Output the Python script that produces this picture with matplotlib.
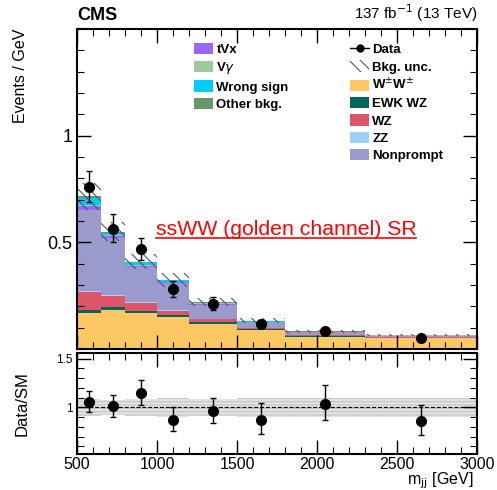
import matplotlib
matplotlib.use('Agg')
import matplotlib.pyplot as plt
from matplotlib.patches import Patch
from matplotlib.lines import Line2D
from matplotlib.ticker import MultipleLocator
import numpy as np

plt.rcParams['font.family'] = ['Liberation Sans', 'DejaVu Sans']
plt.rcParams['hatch.linewidth'] = 0.8

# m_jj bin edges (GeV)
edges = [500, 650, 800, 1000, 1200, 1500, 1800, 2300, 3000]

# background components, events / GeV, stacked bottom -> top
ww = [0.167, 0.183, 0.167, 0.148, 0.116, 0.088, 0.057, 0.050]
ewk_wz = [0.016, 0.012, 0.012, 0.010, 0.009, 0.005, 0.004, 0.003]
wz = [0.083, 0.055, 0.037, 0.021, 0.015, 0.006, 0.004, 0.003]
zz = [0.004, 0.003, 0.003, 0.002, 0.002, 0.001, 0.001, 0.001]
nonprompt = [0.381, 0.269, 0.165, 0.127, 0.066, 0.026, 0.012, 0.005]
tvx = [0.019, 0.008, 0.006, 0.004, 0.003, 0.001, 0.001, 0.0005]
vgamma = [0.005, 0.004, 0.004, 0.002, 0.002, 0.001, 0.001, 0.0005]
wrong_sign = [0.034, 0.011, 0.012, 0.008, 0.004, 0.004, 0.001, 0.001]
other_bkg = [0.006, 0.004, 0.003, 0.002, 0.002, 0.001, 0.001, 0.0005]

# relative background uncertainty per bin
bkg_unc = [0.09, 0.08, 0.09, 0.10, 0.09, 0.10, 0.10, 0.10]

# data
data_y = [0.757, 0.561, 0.467, 0.280, 0.211, 0.116, 0.082, 0.053]
data_up = [0.079, 0.071, 0.055, 0.040, 0.031, 0.020, 0.015, 0.010]
data_dn = [0.068, 0.060, 0.049, 0.038, 0.027, 0.018, 0.013, 0.009]

# data / SM ratio
ratio_y = [1.06, 1.01, 1.147, 0.867, 0.961, 0.874, 1.035, 0.86]
ratio_up = [0.108, 0.12, 0.133, 0.133, 0.139, 0.171, 0.192, 0.168]
ratio_dn = [0.102, 0.105, 0.119, 0.112, 0.118, 0.147, 0.161, 0.147]

components = [
    ('W$^{\\pm}$W$^{\\pm}$', ww, '#fdc863'),
    ('EWK WZ', ewk_wz, '#00665f'),
    ('WZ', wz, '#de5468'),
    ('ZZ', zz, '#9fcfff'),
    ('Nonprompt', nonprompt, '#9a9acc'),
    ('tVx', tvx, '#9b66ff'),
    ('V$\\gamma$', vgamma, '#99cc99'),
    ('Wrong sign', wrong_sign, '#00ccff'),
    ('Other bkg.', other_bkg, '#669966'),
]

edges = np.array(edges, dtype=float)
centers = 0.5 * (edges[1:] + edges[:-1])

fig = plt.figure(figsize=(4.97, 4.90), dpi=100)
ax = fig.add_axes([0.155, 0.288, 0.805, 0.653])
rax = fig.add_axes([0.155, 0.073, 0.805, 0.207])

# stacked backgrounds
bottom = np.zeros(len(centers))
for name, vals, col in components:
    top = bottom + np.array(vals)
    ax.stairs(top, edges, baseline=bottom, fill=True, color=col, lw=0)
    bottom = top
total = bottom
unc = total * np.array(bkg_unc)

ax.stairs(total + unc, edges, baseline=total - unc, fill=True,
          facecolor='none', edgecolor='#555555', hatch='\\\\\\', lw=0)

ax.errorbar(centers, data_y, yerr=[data_dn, data_up], fmt='o', color='black',
            ms=7, elinewidth=1.0, capsize=2.5, capthick=1.0, zorder=5)

ax.set_xlim(500, 3000)
ax.set_ylim(0, 1.5)
ax.set_yticks([0.5, 1.0])
ax.set_yticklabels(['0.5', '1'])
ax.yaxis.set_minor_locator(MultipleLocator(0.1))
ax.xaxis.set_major_locator(MultipleLocator(500))
ax.xaxis.set_minor_locator(MultipleLocator(100))
ax.tick_params(axis='x', labelbottom=False)
ax.set_ylabel('Events / GeV', fontsize=11.5, loc='top')
ax.yaxis.set_label_coords(-0.122, 1.0)

ax.text(0.0, 1.015, 'CMS', transform=ax.transAxes, fontsize=13,
        fontweight='bold', ha='left', va='bottom')
ax.text(1.0, 1.015, '137 fb$^{-1}$ (13 TeV)', transform=ax.transAxes,
        fontsize=11, ha='right', va='bottom')

t = ax.text(0.5225, 0.372, 'ssWW (golden channel) SR', transform=ax.transAxes,
            fontsize=15.3, color='red', ha='center', va='center')
fig.canvas.draw()
bb = t.get_window_extent().transformed(fig.transFigure.inverted())
fig.add_artist(Line2D([bb.x0, bb.x1], [bb.y0 + 0.002, bb.y0 + 0.002],
                      transform=fig.transFigure, color='red', lw=1.2))

# legends
data_handle = Line2D([], [], color='black', marker='o', ms=5, lw=1)
unc_handle = Patch(facecolor='none', edgecolor='#555555', hatch='\\\\\\', lw=0)
right_handles = [data_handle, unc_handle] + [Patch(color=c, lw=0) for _, _, c in components[:5]]
right_labels = ['Data', 'Bkg. unc.'] + [n for n, _, _ in components[:5]]
left_handles = [Patch(color=c, lw=0) for _, _, c in components[5:]]
left_labels = [n for n, _, _ in components[5:]]

leg_kw = dict(frameon=False, prop={'weight': 'bold', 'size': 9.5},
              handlelength=1.45, handleheight=0.95, labelspacing=0.31,
              handletextpad=0.25, borderaxespad=0, borderpad=0)
leg1 = ax.legend(left_handles, left_labels, loc='upper left',
                 bbox_to_anchor=(194 / 497, 1 - 43 / 490),
                 bbox_transform=fig.transFigure, **leg_kw)
ax.add_artist(leg1)
ax.legend(right_handles, right_labels, loc='upper left',
          bbox_to_anchor=(350 / 497, 1 - 43 / 490),
          bbox_transform=fig.transFigure, **leg_kw)

# ratio panel
rel = np.array(bkg_unc)
rax.stairs(1 + rel, edges, baseline=1 - rel, fill=True, facecolor='#e2e2e2',
           edgecolor='#c4c4c4', hatch='-----', lw=0)
rax.axhline(1.0, color='black', ls='--', lw=0.8)
rax.errorbar(centers, ratio_y, yerr=[ratio_dn, ratio_up], fmt='o', color='black',
             ms=7, elinewidth=1.0, capsize=2.5, capthick=1.0, zorder=5)
rax.set_xlim(500, 3000)
rax.set_ylim(0.52, 1.56)
rax.set_yticks([1.0, 1.5])
rax.set_yticklabels(['1', '1.5'])
rax.yaxis.set_minor_locator(MultipleLocator(0.1))
rax.xaxis.set_major_locator(MultipleLocator(500))
rax.xaxis.set_minor_locator(MultipleLocator(100))
rax.tick_params(axis='y', labelsize=8.5)
rax.tick_params(axis='x', labelsize=11.5, pad=2)
rax.set_ylabel('Data/SM', fontsize=12)
rax.yaxis.set_label_coords(-0.118, 0.5)
rax.set_xlabel('m$_{\\mathrm{jj}}$ [GeV]', fontsize=11.5, loc='right')
rax.xaxis.set_label_coords(0.99, -0.158)

for a in (ax, rax):
    a.tick_params(which='both', direction='in', top=True, right=True)
    a.tick_params(which='major', length=10, width=1)
    a.tick_params(which='minor', length=5, width=0.8)
    for s in a.spines.values():
        s.set_linewidth(1.5)
ax.tick_params(axis='y', labelsize=13)

fig.savefig('out.png', dpi=100)
